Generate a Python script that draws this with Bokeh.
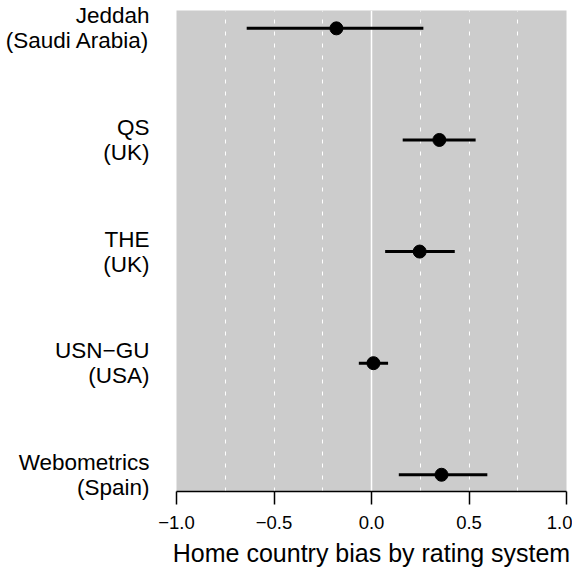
from bokeh.plotting import figure
from bokeh.models import Range1d, FixedTicker, Grid, ColumnDataSource
from bokeh.embed import file_html
from bokeh.resources import INLINE

labels = ["Jeddah\n(Saudi Arabia)", "QS\n(UK)", "THE\n(UK)", "USN\u2212GU\n(USA)", "Webometrics\n(Spain)"]
estimate = [-0.18, 0.348, 0.247, 0.010, 0.359]
lower = [-0.64, 0.160, 0.070, -0.065, 0.140]
upper = [0.266, 0.534, 0.427, 0.085, 0.594]
x_ticks = [-1.0, -0.5, 0.0, 0.5, 1.0]
x_tick_labels = ["\u22121.0", "\u22120.5", "0.0", "0.5", "1.0"]
grid_dashed = [-0.75, -0.5, -0.25, 0.25, 0.5, 0.75]
grid_solid = [0.0]
x_title = "Home country bias by rating system"

positions = list(range(len(labels), 0, -1))
src = ColumnDataSource(dict(y=positions, est=estimate, lo=lower, hi=upper))

FONT = "Liberation Sans"

p = figure(width=572, height=572, output_backend="svg", toolbar_location=None,
           x_range=Range1d(-1.0, 1.0), y_range=Range1d(0.85, 5.16),
           min_border_left=176, min_border_right=6, min_border_top=10, min_border_bottom=81)
p.background_fill_color = "#CCCCCC"
p.border_fill_color = "white"
p.outline_line_color = None

p.xgrid.visible = False
p.ygrid.visible = False
g1 = Grid(dimension=0, ticker=FixedTicker(ticks=grid_dashed), grid_line_color="white",
          grid_line_width=1, grid_line_dash="4 8")
g2 = Grid(dimension=0, ticker=FixedTicker(ticks=grid_solid), grid_line_color="white",
          grid_line_width=1.5)
p.add_layout(g1)
p.add_layout(g2)

p.segment(x0="lo", x1="hi", y0="y", y1="y", source=src, line_color="black", line_width=3)
p.scatter(x="est", y="y", source=src, size=13, fill_color="black", line_color="black")

xa = p.xaxis[0]
xa.ticker = FixedTicker(ticks=x_ticks)
xa.major_label_overrides = {t: l for t, l in zip(x_ticks, x_tick_labels)}
xa.axis_line_width = 1.5
xa.major_tick_line_width = 1.5
xa.major_tick_out = 13
xa.major_tick_in = 0
xa.minor_tick_line_color = None
xa.major_label_standoff = 11
xa.major_label_text_font = FONT
xa.major_label_text_font_size = "18.5px"
xa.major_label_text_color = "black"
xa.axis_label = x_title
xa.axis_label_text_font = FONT
xa.axis_label_text_font_size = "25px"
xa.axis_label_text_font_style = "normal"
xa.axis_label_standoff = 7
xa.axis_label_text_color = "black"

ya = p.yaxis[0]
ya.ticker = FixedTicker(ticks=positions)
ya.major_label_overrides = {pos: l for pos, l in zip(positions, labels)}
ya.axis_line_color = None
ya.major_tick_line_color = None
ya.minor_tick_line_color = None
ya.major_label_standoff = 21
ya.major_label_text_font = FONT
ya.major_label_text_font_size = "22.5px"
ya.major_label_text_color = "black"
ya.major_label_text_line_height = 1.0

open("out.html", "w").write(file_html(p, INLINE))
